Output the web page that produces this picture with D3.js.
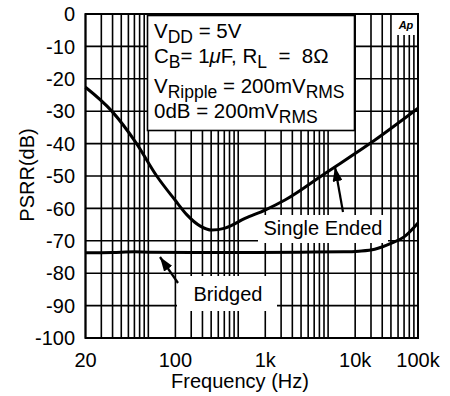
<!DOCTYPE html>
<html>
<head>
<meta charset="utf-8">
<script src="https://cdn.jsdelivr.net/npm/d3@7"></script>
<style>
body{margin:0;background:#fff;}
text{font-family:"Liberation Sans",Arial,Helvetica,sans-serif;fill:#000;}
</style>
</head>
<body>
<svg id="chart" width="450" height="396"></svg>
<script>
// single ended curve
seFreq=[20,39,74,124,198,269,375,511,713,1189,1985,3311,9230,33200,100000]
seDb=[-22.6,-29.9,-40,-50,-57.4,-62,-65.4,-66.7,-66.1,-63.1,-60.5,-57.4,-49.2,-38.9,-29.1]
// bridged curve
brFreq=[20,40,70,100,300,1000,5000,15000,22000,33000,50000,70000,100000]
brDb=[-73.7,-73.6,-73.4,-73.5,-73.6,-73.6,-73.5,-73.4,-73.2,-72.6,-70.8,-68.8,-64.5]
yTicks=[0,-10,-20,-30,-40,-50,-60,-70,-80,-90,-100]
xTickVals=[20,200,2000,20000,100000]
xTickLabels=["20","100","1k","10k","100k"]
// grid frequencies: 1..9 per decade
gridFreq=[]
for(d=10;d<=10000;d*=10){
  for(k=1;k<=9;k++){
    if(d*k>=20) gridFreq.push(d*k)
  }
}
gridFreq.push(100000)

var svg=d3.select("#chart")
var pl=85.5, pr=418, pt=14, pb=338
var x=d3.scaleLog().domain([20,100000]).range([pl,pr])
var y=d3.scaleLinear().domain([-100,0]).range([pb,pt])

// grid
svg.selectAll(".vg").data(gridFreq).enter().append("line")
  .attr("x1",function(d){return x(d)}).attr("x2",function(d){return x(d)})
  .attr("y1",pt).attr("y2",pb)
  .attr("stroke","#000").attr("stroke-width",1.6)
svg.selectAll(".hg").data(yTicks).enter().append("line")
  .attr("x1",pl).attr("x2",pr)
  .attr("y1",function(d){return y(d)}).attr("y2",function(d){return y(d)})
  .attr("stroke","#000").attr("stroke-width",1.6)

var line=d3.line().x(function(d){return x(d[0])}).y(function(d){return y(d[1])}).curve(d3.curveMonotoneX)

svg.append("path").datum(d3.zip(brFreq,brDb))
  .attr("d",line).attr("fill","none").attr("stroke","#000").attr("stroke-width",3)
svg.append("path").datum(d3.zip(seFreq,seDb))
  .attr("d",line).attr("fill","none").attr("stroke","#000").attr("stroke-width",3)

// white label boxes over the grid
function box(x0,y0,w,h,stroke){
  svg.append("rect").attr("x",x0).attr("y",y0).attr("width",w).attr("height",h)
    .attr("fill","#fff").attr("stroke",stroke?"#000":"none").attr("stroke-width",1.6)
}
box(147.5,15.5,207,115,true)
box(258,215,130,28,false)
box(177,276,100,35,false)
box(395,15,22,20,false)

// plot border
svg.append("rect").attr("x",pl).attr("y",pt).attr("width",pr-pl).attr("height",pb-pt)
  .attr("fill","none").attr("stroke","#000").attr("stroke-width",2)

// conditions text
var info=svg.append("g").style("font-size","20.5px")
function sub(t,s){t.append("tspan").attr("dy",5).style("font-size","17.5px").text(s)}
function back(t,s){t.append("tspan").attr("dy",-5).text(s)}
var t1=info.append("text").attr("x",154).attr("y",38)
t1.append("tspan").text("V"); sub(t1,"DD"); back(t1," = 5V")
var t2=info.append("text").attr("x",154).attr("y",63)
t2.append("tspan").text("C"); sub(t2,"B"); back(t2,"= 1")
t2.append("tspan").style("font-style","italic").text("\u03bc")
t2.append("tspan").text("F, R"); sub(t2,"L"); back(t2,"\u00a0 = \u00a08\u03a9")
var t3=info.append("text").attr("x",154).attr("y",93)
t3.append("tspan").text("V"); sub(t3,"Ripple"); back(t3," = 200mV"); sub(t3,"RMS")
var t4=info.append("text").attr("x",154).attr("y",118)
t4.append("tspan").text("0dB = 200mV"); sub(t4,"RMS")

svg.append("text").attr("x",406).attr("y",29).attr("text-anchor","middle")
  .style("font-size","11px").style("font-weight","bold").style("font-style","italic").text("Ap")

// curve labels and arrows
svg.append("text").attr("x",323).attr("y",235).attr("text-anchor","middle").style("font-size","20px").text("Single Ended")
svg.append("text").attr("x",228).attr("y",301).attr("text-anchor","middle").style("font-size","20px").text("Bridged")

svg.append("defs").append("marker").attr("id","ah").attr("viewBox","0 0 10 10")
  .attr("refX",10).attr("refY",5).attr("markerWidth",6.5).attr("markerHeight",4.5)
  .attr("markerUnits","strokeWidth").attr("orient","auto").attr("preserveAspectRatio","none")
  .append("path").attr("d","M0,0L10,5L0,10z").attr("fill","#000")
svg.append("line").attr("x1",343).attr("y1",212).attr("x2",335).attr("y2",167)
  .attr("stroke","#000").attr("stroke-width",2.2).attr("marker-end","url(#ah)")
svg.append("line").attr("x1",178).attr("y1",283).attr("x2",160).attr("y2",257)
  .attr("stroke","#000").attr("stroke-width",2.2).attr("marker-end","url(#ah)")

// axis labels
svg.selectAll(".yl").data(yTicks).enter().append("text")
  .attr("x",75).attr("y",function(d){return y(d)}).attr("dy","0.36em")
  .attr("text-anchor","end").style("font-size","20px").text(function(d){return d})
svg.selectAll(".xl").data(xTickVals).enter().append("text")
  .attr("x",function(d){return x(d)}).attr("y",367)
  .attr("text-anchor","middle").style("font-size","20px")
  .text(function(d,i){return xTickLabels[i]})

svg.append("text").attr("x",240).attr("y",388).attr("text-anchor","middle").style("font-size","20px").text("Frequency (Hz)")
svg.append("text").attr("transform","translate(34,175) rotate(-90)").attr("text-anchor","middle")
  .style("font-size","20px").text("PSRR(dB)")
</script>
</body>
</html>
